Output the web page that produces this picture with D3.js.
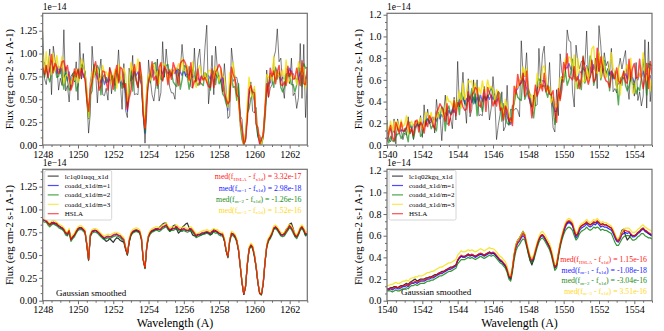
<!DOCTYPE html>
<html>
<head>
<meta charset="utf-8">
<script src="https://cdn.jsdelivr.net/npm/d3@7"></script>
<style>
  body { margin: 0; background: #fff; }
</style>
</head>
<body>
<div id="chart"></div>
<script>
// Flux values are in units of 1e-16 erg cm-2 s-1 A-1, one value every 0.1 A
const waveLeft = d3.range(151).map(i => +(1248 + i * 0.1).toFixed(1));
const waveRight = d3.range(151).map(i => +(1540 + i * 0.1).toFixed(1));

const seriesColors = ["#000000", "#0000ff", "#008000", "#f2e000", "#ff0000"];
const legendLeft = ["lc1q01uqq_x1d", "coadd_x1d/m=1", "coadd_x1d/m=2", "coadd_x1d/m=3", "HSLA"];
const legendRight = ["lc1q02kgq_x1d", "coadd_x1d/m=1", "coadd_x1d/m=2", "coadd_x1d/m=3", "HSLA"];
const medSubs = ["HSLA", "m=1", "m=2", "m=3"];
const medColors = ["#ff2020", "#2020ff", "#1a8c1a", "#ffd81a"];
const medLeft = ["3.32e-17", "2.98e-18", "-1.26e-16", "1.52e-16"];
const medRight = ["1.15e-16", "-1.08e-18", "-3.04e-16", "3.51e-16"];

// ---- top left: raw spectra 1248-1263 A
const rawL_x1d = [124,73,66,82,105,55,108,93,87,60,
  73,65,126,59,65,47,75,78,69,91, 49,112,72,100,73,53,13,35,108,80,
  80,46,77,94,55,54,62,49,85,56, 75,65,76,104,68,39,89,38,30,84,
  70,98,55,56,55,91,65,37,2,35, 93,72,55,48,64,94,48,57,113,74,
  105,83,63,57,57,50,84,82,81,110, 87,75,74,86,64,62,106,68,94,105,
  77,72,107,131,45,66,98,55,108,84, 71,70,58,89,61,29,32,106,88,74,
  74,64,32,28,0,4,33,54,69,37, 35,41,10,11,4,14,36,82,52,62,
  66,95,103,127,91,95,64,51,84,82, 67,95,54,57,40,52,111,51,110,30,71];
const rawL_m1 = [86,90,84,88,80,92,82,90,78,86,
  78,84,74,78,70,80,64,72,76,74, 82,76,84,74,80,58,30,68,78,74,
  80,72,78,68,74,66,74,68,72,70, 76,70,78,70,74,66,68,56,37,64,
  76,72,80,76,80,72,66,33,13,52, 72,78,74,82,76,82,76,82,78,84,
  82,78,80,76,82,78,84,76,80,76, 82,76,78,76,82,74,76,68,74,70,
  76,72,78,74,76,72,78,74,78,74, 76,70,74,64,48,38,64,76,70,72,
  64,54,28,11,2,7,34,56,62,57, 48,28,10,2,1,9,37,60,68,68,
  76,78,84,78,78,70,74,72,78,78, 84,78,78,72,72,72,80,80,80,72,76];
const rawL_m2 = [85,74,84,75,69,78,84,86,74,75,
  85,73,61,85,71,60,63,78,80,59, 65,81,88,86,80,49,29,55,59,88,
  78,87,82,55,74,77,68,72,81,72, 76,59,81,76,69,62,71,61,42,58,
  81,59,81,71,63,80,69,34,14,61, 75,68,81,89,90,62,82,72,71,78,
  87,88,74,80,69,66,64,83,61,71, 87,86,75,61,72,85,78,69,65,69,
  67,65,79,77,71,60,74,81,66,80, 67,71,56,53,45,42,58,75,63,64,
  49,67,22,6,0,12,35,40,51,55, 61,24,9,5,0,9,28,58,65,78,
  72,63,85,72,80,63,58,63,77,75, 78,66,66,58,66,85,83,64,89,84,85];
const rawL_m3 = [99,80,102,81,97,77,100,81,98,84,
  85,97,67,76,77,73,66,74,71,83, 68,76,94,88,78,62,30,64,80,73,
  84,83,70,74,87,79,80,75,80,67, 74,83,62,89,70,76,84,77,48,66,
  90,80,87,80,94,83,75,45,19,60, 78,71,87,88,75,81,67,89,88,89,
  82,69,77,83,78,84,83,89,82,95, 81,82,87,70,78,91,70,63,82,87,
  78,71,79,68,82,81,78,73,86,78, 70,83,75,74,55,41,79,66,90,70,
  62,45,26,13,0,11,45,74,57,51, 64,27,18,5,0,11,41,77,74,77,
  70,97,70,81,75,77,82,69,93,68, 71,79,75,74,66,91,83,77,85,62,78];
const rawL_hsla = [85,77,87,74,84,99,79,89,85,78,
  82,91,92,81,87,73,60,66,83,75, 83,73,84,77,72,51,37,61,69,84,
  91,77,60,65,81,80,69,60,84,78, 61,77,87,68,85,83,63,67,39,51,
  59,77,88,71,63,90,75,34,18,49, 70,76,91,71,75,65,85,90,70,86,
  82,66,82,72,90,84,74,65,89,92, 93,89,81,71,90,63,70,70,83,66,
  75,71,74,69,64,63,83,63,80,83, 88,84,66,56,50,45,48,85,77,72,
  55,52,27,17,1,6,28,61,65,58, 57,23,19,1,7,10,38,67,53,84,
  75,81,67,80,87,66,65,69,65,86, 75,81,72,73,84,73,65,92,67,66,85];

// ---- bottom left: Gaussian smoothed
const smL_x1d = [89,88,87,85,84,86,85,84,85,82,
  81,79,78,75,74,77,68,70,72,76, 79,80,80,78,76,62,45,72,76,77,
  77,76,74,72,70,67,65,66,68,66, 64,67,69,68,66,65,64,56,50,64,
  72,75,76,77,76,75,68,45,36,60, 71,75,76,77,78,79,80,82,84,85,
  85,80,76,78,82,83,78,74,76,80, 82,84,85,80,76,72,71,72,73,72,
  72,73,74,75,74,72,73,78,77,75, 74,73,72,66,55,48,66,74,73,71,
  66,56,38,20,7,16,40,57,61,59, 50,37,20,8,7,19,42,60,67,70,
  74,79,80,79,75,72,72,74,78,80, 84,85,79,72,70,74,79,81,77,72,74];
const smL_m1 = [89,88,87,85,83,84,86,85,83,82,
  80,80,77,74,72,76,67,69,72,75, 78,80,79,78,75,62,45,71,76,76,
  77,75,74,71,70,68,70,70,70,70, 72,72,73,71,71,68,67,58,51,65,
  73,75,77,77,77,75,68,45,36,59, 71,74,77,77,79,78,78,78,81,81,
  83,79,78,78,79,79,81,78,78,77, 79,77,77,77,79,76,74,70,72,72,
  74,74,75,75,75,73,76,76,76,75, 74,72,73,66,55,48,66,73,73,70,
  66,55,38,20,7,16,40,56,61,58, 50,37,20,8,7,19,42,59,67,69,
  74,79,81,78,76,72,72,72,76,78, 82,79,76,71,70,73,79,80,78,72,74];
const smL_m2 = [87,86,86,83,81,83,84,83,82,80,
  79,78,76,72,71,75,65,68,70,74, 77,78,78,76,74,60,44,70,74,75,
  75,74,72,70,68,67,68,69,68,69, 70,71,71,70,69,67,65,57,50,64,
  71,74,75,76,75,74,66,44,35,58, 69,73,75,76,77,77,76,77,79,80,
  81,78,76,77,77,78,79,77,76,76, 77,76,75,76,77,75,72,69,70,71,
  72,73,73,74,73,72,74,75,74,74, 72,71,71,65,54,47,64,72,71,69,
  64,55,37,19,7,15,39,56,59,57, 48,36,19,8,6,18,41,58,65,68,
  72,78,79,77,74,71,70,71,74,77, 80,78,74,70,68,72,77,79,76,71,72];
const smL_m3 = [90,89,89,87,85,87,88,87,86,84,
  83,82,80,76,75,79,69,72,74,78, 81,82,82,80,78,63,46,74,78,79,
  79,78,76,74,72,71,72,73,72,73, 74,75,75,74,73,71,69,59,52,68,
  75,78,79,80,79,78,70,46,37,62, 73,77,79,80,81,81,80,81,83,84,
  85,82,80,81,81,82,83,81,80,80, 81,80,79,80,81,79,76,73,74,75,
  76,77,77,78,77,76,78,79,78,78, 76,75,75,69,56,49,68,76,75,73,
  68,57,39,21,8,17,41,59,63,61, 52,38,21,9,8,20,43,62,69,72,
  76,82,83,81,78,75,74,75,78,81, 84,82,78,74,72,76,81,83,80,75,76];
const smL_hsla = [89,88,88,85,83,85,86,85,84,82,
  81,80,78,74,73,77,67,70,72,76, 79,80,80,78,76,62,45,72,76,77,
  77,76,74,72,70,69,70,71,70,71, 72,73,73,72,71,69,67,58,51,66,
  73,76,77,78,77,76,68,45,36,60, 71,75,77,78,79,79,78,79,81,82,
  83,80,78,79,79,80,81,79,78,78, 79,78,77,78,79,77,74,71,72,73,
  74,75,75,76,75,74,76,77,76,76, 74,73,73,67,55,48,66,74,73,71,
  66,56,38,20,7,16,40,57,61,59, 50,37,20,8,7,19,42,60,67,70,
  74,80,81,79,76,73,72,73,76,79, 82,80,76,72,70,74,79,81,78,73,74];

// ---- top right: raw spectra 1540-1555 A
const rawR_x1d = [23,5,3,10,24,1,24,16,14,5,
  11,9,26,10,14,5,22,21,17,27, 7,37,17,33,20,21,26,11,42,27,
  28,4,29,46,19,20,25,15,44,23, 77,35,44,67,39,20,61,26,33,60,
  39,60,27,28,27,54,41,46,23,34, 63,42,5,18,28,49,13,17,55,18,
  33,32,32,34,32,26,96,65,63,85, 52,38,35,46,36,37,89,57,83,91,
  59,50,76,40,16,12,51,27,84,67, 62,67,106,96,95,49,35,92,77,70,
  77,78,74,105,63,62,68,70,80,52, 110,92,68,85,73,77,65,89,49,52,
  48,70,80,70,79,87,56,42,70,63, 45,76,41,49,36,45,97,34,95,40,58];
const rawR_m1 = [12,9,15,11,13,10,16,12,14,13,
  13,16,12,18,15,19,16,19,17,20, 18,22,19,24,20,25,21,25,22,27,
  24,28,25,30,27,32,28,33,30,35, 36,42,39,44,38,43,40,45,39,44,
  38,44,40,46,40,45,41,46,42,46, 42,47,40,43,36,39,33,35,26,22,
  19,29,40,50,52,56,57,61,58,52, 44,40,35,41,44,52,55,60,59,59,
  54,55,47,46,36,31,31,44,50,60, 63,71,71,75,70,73,63,62,60,68,
  66,71,68,73,68,72,67,74,68,74, 68,72,67,71,66,70,64,68,61,62,
  54,57,56,63,61,66,61,66,59,62, 57,62,60,66,62,68,62,66,60,64,58];
const rawR_m2 = [7,2,8,4,3,8,10,11,6,9,
  15,10,3,21,15,6,14,20,21,8, 10,18,23,24,22,15,18,16,13,30,
  26,35,33,13,32,36,28,31,41,33, 41,28,48,44,39,36,46,42,52,38,
  47,27,46,38,31,45,43,44,48,53, 48,38,45,49,47,22,38,27,20,19,
  22,36,38,50,44,42,41,66,42,47, 52,46,35,25,40,58,61,58,54,55,
  49,44,53,45,34,19,31,46,43,63, 58,68,55,60,66,79,61,61,52,60,
  51,82,57,63,61,82,75,55,62,70, 84,60,67,78,63,70,50,65,62,68,
  54,37,62,55,68,55,50,54,63,56, 56,47,53,50,62,79,69,46,75,74,73];
const rawR_m3 = [19,9,22,11,22,11,22,12,23,17,
  19,27,10,19,22,17,20,22,20,25, 15,19,30,29,24,30,20,25,29,25,
  33,33,25,31,45,40,40,36,42,31, 41,50,34,57,42,49,59,58,59,47,
  57,47,53,47,59,49,50,60,52,54, 51,41,51,49,35,39,26,42,35,29,
  22,21,42,54,53,60,61,72,64,71, 48,44,46,34,46,66,53,52,71,73,
  60,49,54,39,44,37,35,40,62,61, 61,80,75,81,80,70,83,52,80,66,
  65,58,59,72,59,74,89,91,68,66, 86,62,81,72,62,68,72,85,71,67,
  52,73,46,64,63,69,74,60,80,48, 48,60,62,66,62,85,69,60,70,50,65];
const rawR_hsla = [3,12,18,7,4,21,16,11,21,13,
  13,16,22,12,15,9,22,23,12,21, 18,11,22,17,27,24,18,15,30,33,
  38,35,30,22,38,18,27,30,41,27, 39,37,41,35,32,33,49,30,46,48,
  53,51,37,35,42,51,31,53,48,45, 36,41,36,49,32,34,23,36,32,22,
  25,18,54,47,65,55,58,66,45,68, 47,41,25,41,55,45,50,56,50,66,
  49,54,47,46,50,30,21,52,41,52, 76,69,84,63,62,60,72,59,63,52,
  62,81,70,62,56,63,78,58,61,89, 68,81,72,63,59,58,53,68,65,61,
  71,59,57,61,68,58,57,79,61,71, 75,62,62,79,62,52,61,75,52,77,65];

// ---- bottom right: Gaussian smoothed
const smR_x1d = [11,11,12,12,13,13,12,13,14,14,
  15,16,15,17,18,19,20,18,19,20, 20,20,21,21,22,22,23,24,24,25,
  26,27,27,28,29,30,31,31,32,33, 37,40,41,41,41,42,43,42,42,42,
  41,42,43,43,43,42,43,44,45,44, 44,43,41,39,37,36,34,32,28,22,
  20,30,43,52,56,58,61,64,61,52, 44,37,33,38,46,52,57,60,61,59,
  56,53,50,45,38,31,33,43,52,59, 65,70,72,73,72,70,65,60,62,67,
  69,70,71,72,71,70,71,72,72,73, 72,70,71,70,70,69,68,67,64,60,
  56,56,60,65,66,60,56,58,61,60, 60,61,63,64,66,67,65,64,62,61,60];
const smR_m1 = [10,10,11,10,11,12,11,11,12,13,
  13,14,13,15,16,16,17,16,17,18, 18,18,19,20,20,21,21,22,23,24,
  25,25,26,27,28,29,29,30,31,32, 37,39,41,40,40,41,42,41,42,41,
  40,41,42,43,42,41,42,43,44,43, 44,43,41,39,37,36,34,32,28,22,
  20,29,41,49,53,55,58,60,58,52, 45,39,36,39,45,51,56,59,60,58,
  55,52,49,44,37,30,32,42,51,58, 63,68,71,72,71,69,63,58,60,65,
  67,68,69,71,69,68,69,71,70,72, 70,68,69,68,68,67,66,65,62,58,
  55,54,57,61,62,63,62,63,61,59, 59,60,62,63,65,66,64,63,62,61,60];
const smR_m2 = [9,9,9,8,9,10,9,9,10,11,
  11,12,11,13,14,14,15,14,15,16, 16,16,17,18,18,19,19,20,21,22,
  23,23,24,25,26,27,27,28,29,30, 34,36,38,38,38,39,40,39,40,39,
  38,39,40,41,40,39,40,41,42,41, 42,41,39,37,35,34,32,30,26,20,
  18,26,38,46,50,52,55,57,56,50, 43,37,35,37,43,49,54,57,58,56,
  53,50,47,42,35,28,30,40,49,56, 61,65,67,68,67,65,60,56,58,62,
  64,65,66,68,66,65,66,68,67,68, 67,65,66,65,65,64,63,62,58,54,
  51,51,54,57,59,60,60,60,58,56, 56,57,59,60,62,62,60,59,58,58,57];
const smR_m3 = [14,14,15,15,16,17,16,16,17,18,
  18,19,18,20,21,21,22,22,23,23, 23,24,25,26,26,27,27,28,29,30,
  31,31,32,33,34,35,35,36,37,38, 42,44,46,45,45,46,47,46,47,46,
  45,46,47,48,47,46,47,48,49,48, 48,47,45,43,41,40,38,36,32,25,
  23,32,44,52,56,58,61,64,62,55, 48,42,39,42,48,54,59,63,64,62,
  59,56,53,48,41,33,35,45,54,61, 67,72,75,76,75,73,67,62,64,69,
  71,72,73,75,73,72,73,75,74,76, 74,72,73,72,72,71,70,69,66,62,
  58,57,60,64,66,67,67,67,65,63, 63,64,66,67,69,70,68,67,66,65,64];
const smR_hsla = [11,11,12,11,12,13,12,12,13,14,
  14,15,14,16,17,17,18,17,18,19, 19,19,20,21,21,22,22,23,24,25,
  26,26,27,28,29,30,30,31,32,33, 38,40,42,41,41,42,43,42,43,42,
  41,42,43,44,43,42,43,44,45,44, 45,44,42,40,38,37,35,33,29,23,
  21,30,42,50,54,56,59,62,60,53, 46,40,37,40,46,52,57,60,61,59,
  56,53,50,45,38,31,33,43,52,59, 65,70,73,74,73,71,65,60,62,67,
  69,70,71,73,71,70,71,73,72,74, 72,70,71,70,70,69,68,67,64,60,
  56,55,58,62,64,65,64,64,62,60, 60,61,63,64,66,67,65,64,63,62,61];

const FONT = "'Liberation Serif', 'Times New Roman', 'DejaVu Serif', serif";
const W = 664, H = 331;
const svg = d3.select("#chart").append("svg")
  .attr("width", W).attr("height", H)
  .style("font-family", FONT);

// raw panels: stroke width and opacity per series (x1d, m=1, m=2, m=3, HSLA)
const rawWidth = [1.0, 1.3, 1.4, 1.4, 1.5];
const rawAlpha = [0.5, 0.55, 0.65, 0.8, 0.7];

let clipId = 0;

function drawPanel(p) {
  const x = d3.scaleLinear().domain(p.xDomain).range([p.left, p.right]);
  const y = d3.scaleLinear().domain(p.yDomain).range([p.bottom, p.top]);
  const g = svg.append("g");

  // clip so the noisy lines stay inside the frame
  const id = "clip" + (clipId++);
  svg.append("clipPath").attr("id", id)
    .append("rect")
    .attr("x", p.left).attr("y", p.top)
    .attr("width", p.right - p.left).attr("height", p.bottom - p.top);

  const lines = g.append("g").attr("clip-path", `url(#${id})`);
  const line = d3.line()
    .x((d, i) => x(p.wave[i]))
    .y(d => y(d));

  p.series.forEach((s, k) => {
    lines.append("path")
      .datum(s)
      .attr("d", line)
      .attr("fill", "none")
      .attr("stroke", seriesColors[k])
      .attr("stroke-width", p.raw ? rawWidth[k] : 1.2)
      .attr("stroke-opacity", p.raw ? rawAlpha[k] : 0.8)
      .attr("stroke-linejoin", "round");
  });

  // axes: major + minor ticks, outward
  const xMajor = d3.range(p.xDomain[0], p.xDomain[1] + 0.01, 2);
  const xMinor = d3.range(p.xDomain[0], p.xDomain[1] + 0.01, 0.5).filter(v => v % 2 !== 0);
  const yMinor = d3.range(0, p.yDomain[1], p.yStep / 3).filter(v => !p.yTicks.some(t => Math.abs(t - v) < 1e-6));

  const axisStyle = sel => {
    sel.attr("font-family", null).attr("font-size", null);
    sel.select(".domain").remove();
    sel.selectAll("line").attr("stroke", "#444").attr("stroke-width", 0.8);
    sel.selectAll("text").style("font-size", "10px").attr("fill", "#000");
  };

  g.append("g").attr("transform", `translate(0,${p.bottom})`)
    .call(d3.axisBottom(x).tickValues(xMajor).tickSize(3.5).tickPadding(2).tickFormat(d3.format("d")))
    .call(axisStyle);
  g.append("g").attr("transform", `translate(0,${p.bottom})`)
    .call(d3.axisBottom(x).tickValues(xMinor).tickSize(2).tickFormat(""))
    .call(axisStyle);
  g.append("g").attr("transform", `translate(${p.left},0)`)
    .call(d3.axisLeft(y).tickValues(p.yTicks).tickSize(3.5).tickPadding(2).tickFormat(p.yFmt))
    .call(axisStyle);
  g.append("g").attr("transform", `translate(${p.left},0)`)
    .call(d3.axisLeft(y).tickValues(yMinor).tickSize(2).tickFormat(""))
    .call(axisStyle);

  // frame
  g.append("rect")
    .attr("x", p.left).attr("y", p.top)
    .attr("width", p.right - p.left).attr("height", p.bottom - p.top)
    .attr("fill", "none").attr("stroke", "#707070").attr("stroke-width", 1.2);

  // offset text
  g.append("text")
    .attr("x", p.left).attr("y", p.top - 3.5)
    .style("font-size", "9.5px")
    .text("1e\u221214");

  // y label
  g.append("text")
    .attr("transform", `translate(${p.left - p.ylabOff},${(p.top + p.bottom) / 2}) rotate(-90)`)
    .attr("text-anchor", "middle")
    .style("font-size", "10.5px")
    .text("Flux (erg cm-2 s-1 A-1)");

  if (p.xlabel) {
    g.append("text")
      .attr("x", (p.left + p.right) / 2).attr("y", p.bottom + 26.5)
      .attr("text-anchor", "middle")
      .style("font-size", "12px")
      .text("Wavelength (A)");
  }

  if (p.legend) {
    const lx = p.left + 2, ly = p.top + 1.2;
    const lg = g.append("g");
    lg.append("rect")
      .attr("x", lx).attr("y", ly).attr("width", 67).attr("height", 49.5)
      .attr("rx", 1.5)
      .attr("fill", "#fff").attr("fill-opacity", 0.85)
      .attr("stroke", "#ccc").attr("stroke-width", 0.8);
    p.legend.forEach((name, k) => {
      const yy = ly + 5.6 + k * 9.4;
      lg.append("line")
        .attr("x1", lx + 3).attr("x2", lx + 14)
        .attr("y1", yy).attr("y2", yy)
        .attr("stroke", seriesColors[k]).attr("stroke-opacity", 0.7)
        .attr("stroke-width", 1.2);
      lg.append("text")
        .attr("x", lx + 20).attr("y", yy + 2.4)
        .style("font-size", "7px")
        .text(name);
    });
  }

  if (p.meds) {
    p.meds.forEach((val, k) => {
      const t = g.append("text")
        .attr("x", p.medX).attr("y", p.medY + k * p.medStep)
        .attr("text-anchor", "end")
        .style("font-size", "7.8px")
        .attr("fill", medColors[k]);
      t.append("tspan").text("med(f");
      t.append("tspan").attr("dy", 1.6).style("font-size", "5px").text(medSubs[k]);
      t.append("tspan").attr("dy", -1.6).text(" - f");
      t.append("tspan").attr("dy", 1.6).style("font-size", "5px").text("x1d");
      t.append("tspan").attr("dy", -1.6).text(") = " + val);
      t.selectAll("tspan").attr("fill", medColors[k]);
    });
  }

  if (p.smoothLabel) {
    g.append("text")
      .attr("x", p.smoothLabel[0]).attr("y", p.smoothLabel[1])
      .style("font-size", "9px")
      .text("Gaussian smoothed");
  }
}

const leftTicks = [0, 25, 50, 75, 100, 125];
const rightTicks = [0, 20, 40, 60, 80, 100, 120];
const fmtLeft = d => (d / 100).toFixed(2);
const fmtRight = d => (d / 100).toFixed(1);

const leftBox = { left: 42.7, right: 307.3, xDomain: [1248, 1263], wave: waveLeft,
  yDomain: [0, 144], yTicks: leftTicks, yStep: 25, yFmt: fmtLeft, ylabOff: 30 };
const rightBox = { left: 387, right: 652, xDomain: [1540, 1555], wave: waveRight,
  yDomain: [0, 121.3], yTicks: rightTicks, yStep: 20, yFmt: fmtRight, ylabOff: 25 };

drawPanel({ ...leftBox, top: 13.3, bottom: 145, raw: true,
  series: [rawL_x1d, rawL_m1, rawL_m2, rawL_m3, rawL_hsla] });
drawPanel({ ...leftBox, top: 169.3, bottom: 300.7, raw: false, xlabel: true,
  series: [smL_x1d, smL_m1, smL_m2, smL_m3, smL_hsla],
  legend: legendLeft, meds: medLeft, medX: 301.5, medY: 179.4, medStep: 11.1,
  smoothLabel: [56, 295.5] });
drawPanel({ ...rightBox, top: 13.3, bottom: 145, raw: true,
  series: [rawR_x1d, rawR_m1, rawR_m2, rawR_m3, rawR_hsla] });
drawPanel({ ...rightBox, top: 169.3, bottom: 300.7, raw: false, xlabel: true,
  series: [smR_x1d, smR_m1, smR_m2, smR_m3, smR_hsla],
  legend: legendRight, meds: medRight, medX: 647, medY: 262, medStep: 10.6,
  smoothLabel: [401, 294.5] });

// make sure every label uses the serif face
svg.selectAll("text").style("font-family", FONT);
</script>
</body>
</html>
